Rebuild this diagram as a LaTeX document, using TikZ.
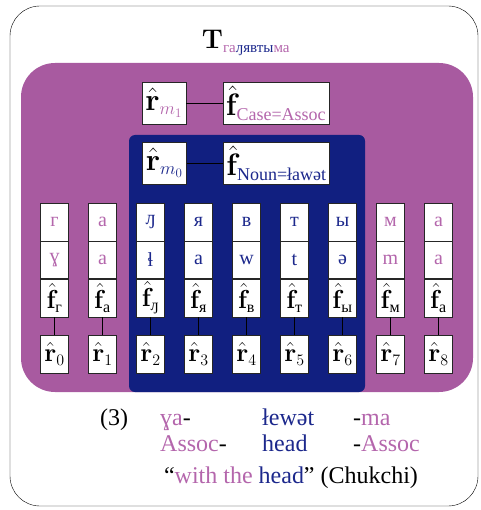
\RequirePackage{fix-cm}
\documentclass[tikz,border=0pt]{standalone}
\usepackage{amsmath}
\usepackage[no-math]{fontspec}
\setmainfont{Liberation Serif}
\usetikzlibrary{positioning}
\definecolor{assoccolor}{RGB}{168,90,160}
\definecolor{headcolor}{RGB}{17,31,128}
\definecolor{assoctext}{RGB}{180,102,172}
\definecolor{headtext}{RGB}{28,40,140}
\DeclareMathSizes{31}{31}{18}{13}
\DeclareMathSizes{27}{27}{15}{11}
\DeclareMathSizes{26}{26}{16}{12}
\newcommand{\rhat}{\hat{\mathbf{r}}}
\newcommand{\fhat}{\hat{\mathbf{f}}}

\begin{document}
\begin{tikzpicture}[
    x=1pt, y=-1pt,
    mathbox/.style={draw=black!85, fill=white, inner sep=0pt, minimum height=42pt, font=\fontsize{31}{31}\selectfont},
    cell/.style={draw=black!85, fill=white, inner sep=0pt, minimum width=28pt, minimum height=#1},
    letter/.style={cell=#1, font=\fontsize{20}{20}\selectfont},
    symb/.style={cell=38pt, font=\fontsize{26}{26}\selectfont},
    gloss/.style={anchor=base west, inner sep=0pt, font=\fontsize{24}{28}\selectfont}
]
    \useasboundingbox (0,0) rectangle (480,510);
    \draw[rounded corners=30pt] (10,6) rectangle (478,506);

    % Title
    \node[font=\fontsize{27}{30}\selectfont] (title) at (246,43)
        {$\mathbf{T}_{\text{\textcolor{assoctext}{га}\textcolor{headtext}{ԓявты}\textcolor{assoctext}{ма}}}$};

    % Groups
    \fill[assoccolor, rounded corners=34pt] (21,63) rectangle (473,392);
    \fill[headcolor, rounded corners=6pt] (129,135) rectangle (365,392);

    % Morph nodes
    \node[mathbox, minimum width=44pt] (rm1) at (164,103) {$\rhat_{\color{assoctext}m_1}$};
    \node[mathbox, minimum width=106pt] (fcase) at (276,103) {$\fhat_{\text{\color{assoctext}Case=Assoc}}$};
    \node[mathbox, minimum width=44pt] (rm0) at (164.5,163) {$\rhat_{\color{headtext}m_0}$};
    \node[mathbox, minimum width=106pt] (fnoun) at (276.5,163) {$\fhat_{\text{\color{headtext}Noun=ławət}}$};
    \draw (rm1) -- (fcase);
    \draw (rm0) -- (fnoun);

    % Letter columns
    \foreach \ltr/\ipa/\clr [count=\i from 0] in {г/ɣ/assoctext, а/a/assoctext, ԓ/ɬ/headtext, я/a/headtext, в/w/headtext, т/t/headtext, ы/ə/headtext, м/m/assoctext, а/a/assoctext}{
        \pgfmathsetmacro\cx{54.5+48*\i}
        \node[letter=38pt, text=\clr] (l\i) at (\cx,222) {\ltr};
        \node[letter=37pt, text=\clr, below=0pt of l\i] (p\i) {\ipa};
        \node[symb, below=0pt of p\i] (f\i) {$\fhat_{\text{\ltr}}$};
        \node[symb] (r\i) at (\cx,354) {$\rhat_{\i}$};
        \draw (f\i) -- (r\i);
    }

    % Gloss
    \node[gloss] (num) at (100,425) {(3)};
    \node[gloss] (m1) at (160,425) {\textcolor{assoctext}{ɣa}-};
    \node[gloss] (m2) at (262,425) {\textcolor{headtext}{łewət}};
    \node[gloss] (m3) at (353,425) {-\textcolor{assoctext}{ma}};
    \node[gloss] (g1) at (160,451) {\textcolor{assoctext}{Assoc}-};
    \node[gloss] (g2) at (262,451) {\textcolor{headtext}{head}};
    \node[gloss] (g3) at (353,451) {-\textcolor{assoctext}{Assoc}};
    \node[gloss, anchor=base] (trans) at (291,483)
        {“\textcolor{assoctext}{with the} \textcolor{headtext}{head}” (Chukchi)};
\end{tikzpicture}
\end{document}
